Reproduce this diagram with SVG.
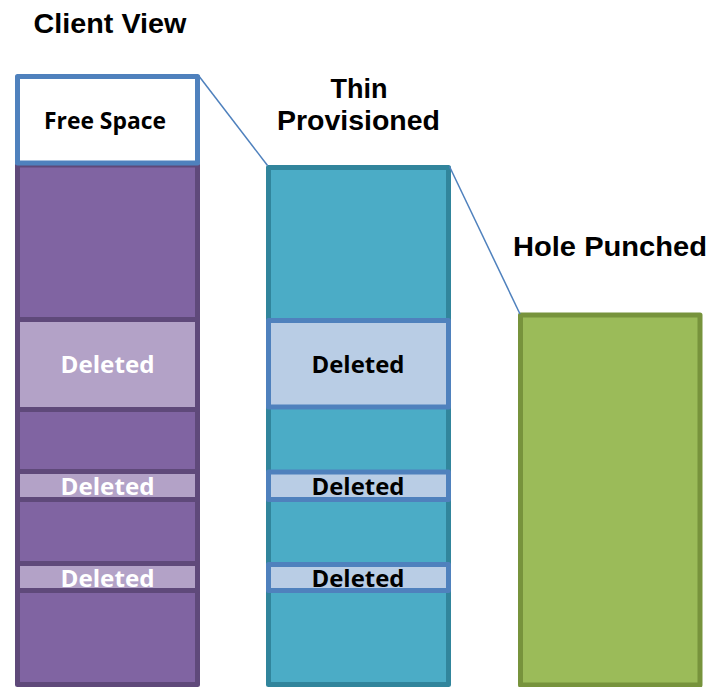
<svg xmlns="http://www.w3.org/2000/svg" width="710" height="687" viewBox="0 0 710 687">
<style>
.h{font-family:"Liberation Sans",Arial,sans-serif;font-weight:bold;font-size:28px;fill:#000;text-anchor:middle}
.c{font-family:"Open Sans","Noto Sans",sans-serif;font-weight:bold;font-size:24px;text-anchor:middle}
.pur{fill:#8064A2;stroke:#5F497A;stroke-width:5;stroke-linejoin:round}
.lpur{fill:#B3A2C7;stroke:#5F497A;stroke-width:5;stroke-linejoin:round}
.teal{fill:#4BACC6;stroke:#31859C;stroke-width:5;stroke-linejoin:round}
.lblue{fill:#B9CDE5;stroke:#4F81BD;stroke-width:5;stroke-linejoin:round}
.grn{fill:#9BBB59;stroke:#77933C;stroke-width:5;stroke-linejoin:round}
.free{fill:#fff;stroke:#4F81BD;stroke-width:5;stroke-linejoin:round}
.conn{stroke:#4F81BD;stroke-width:1.5;fill:none}
</style>
<rect width="710" height="687" fill="#fff"/>
<g id="labels">
<text class="h" x="110" y="33" font-size="26" textLength="153" lengthAdjust="spacingAndGlyphs">Client View</text>
<text class="h" x="359" y="98" textLength="57" lengthAdjust="spacingAndGlyphs">Thin</text>
<text class="h" x="358.5" y="130" textLength="163" lengthAdjust="spacingAndGlyphs">Provisioned</text>
<text class="h" x="610" y="256" textLength="194" lengthAdjust="spacingAndGlyphs">Hole Punched</text>
</g>
<g id="client-view">
<rect class="pur" x="17.5" y="165" width="180" height="519.5"/>
<rect class="lpur" x="17.5" y="319.5" width="180" height="90"/>
<rect class="lpur" x="17.5" y="471.5" width="180" height="28"/>
<rect class="lpur" x="17.5" y="563.5" width="180" height="27"/>
<text class="c" x="107.5" y="373" fill="#fff" textLength="94" lengthAdjust="spacingAndGlyphs">Deleted</text>
<text class="c" x="107.5" y="495" fill="#fff" textLength="94" lengthAdjust="spacingAndGlyphs">Deleted</text>
<text class="c" x="107.5" y="587" fill="#fff" textLength="94" lengthAdjust="spacingAndGlyphs">Deleted</text>
</g>
<g id="free-space">
<rect class="free" x="17.5" y="76.5" width="180" height="86.5"/>
<text class="c" x="105" y="129" fill="#000" textLength="122" lengthAdjust="spacingAndGlyphs">Free Space</text>
</g>
<g id="thin-provisioned">
<rect class="teal" x="268.5" y="167.5" width="180" height="517"/>
<rect class="lblue" x="268.5" y="320.5" width="180" height="86.5"/>
<rect class="lblue" x="268.5" y="472" width="180" height="27.5"/>
<rect class="lblue" x="268.5" y="564.5" width="180" height="26"/>
<text class="c" x="358" y="373" fill="#000" textLength="93" lengthAdjust="spacingAndGlyphs">Deleted</text>
<text class="c" x="358" y="495" fill="#000" textLength="93" lengthAdjust="spacingAndGlyphs">Deleted</text>
<text class="c" x="358" y="587" fill="#000" textLength="93" lengthAdjust="spacingAndGlyphs">Deleted</text>
</g>
<g id="hole-punched">
<rect class="grn" x="520.5" y="315" width="179.5" height="370"/>
</g>
<g id="connectors">
<line class="conn" x1="198.5" y1="75.5" x2="267.5" y2="165.5"/>
<line class="conn" x1="449.5" y1="166.5" x2="520" y2="314"/>
</g>
</svg>
